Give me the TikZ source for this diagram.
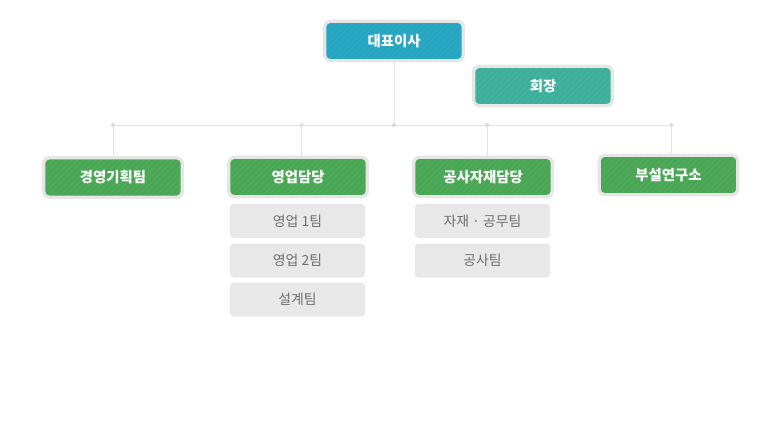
\documentclass[tikz,border=0pt]{standalone}
\usepackage{fontspec}
\newfontfamily\kr{Noto Sans CJK KR}
\definecolor{ceoblue}{HTML}{29A9C4}
\definecolor{chairteal}{HTML}{41B39E}
\definecolor{teamgreen}{HTML}{4DAA58}
\definecolor{subgrey}{HTML}{E8E8E8}
\definecolor{subtext}{HTML}{6E6E6E}
\definecolor{rimgrey}{HTML}{E6E6E6}
\definecolor{linegrey}{HTML}{E4E4E4}
\definecolor{dotgrey}{HTML}{DADADA}
\tikzset{
  hatch/.style={path picture={
    \foreach \k in {-60,-54,...,160}{
      \draw[black,opacity=0.035,line width=1.2pt]
        ([xshift=\k*0.75pt]path picture bounding box.south west) -- ++(45:80pt);
    }}},
  mainbox/.style={draw=rimgrey, line width=2.4pt, rounded corners=4pt,
    minimum width=104pt, minimum height=29.5pt, inner sep=0pt,
    text=white, font=\kr\bfseries\fontsize{10.8}{13}\selectfont, hatch},
  subbox/.style={fill=subgrey, rounded corners=3pt, draw=none,
    minimum width=101.5pt, minimum height=25.5pt, inner sep=0pt,
    text=subtext, font=\kr\fontsize{10.4}{13}\selectfont},
  conn/.style={draw=linegrey, line width=0.75pt},
  junction/.style={circle, fill=dotgrey, inner sep=0pt, minimum size=3pt}
}
\begin{document}
\begin{tikzpicture}[x=0.75pt,y=-0.75pt]
\useasboundingbox (0,0) rectangle (780,421);
% top boxes
\node[mainbox, fill=ceoblue] (ceo) at (394,41) {대표이사};
\node[mainbox, fill=chairteal] (chair) at (543,86) {회장};
% junctions on horizontal bar
\coordinate (j0) at (113,125);
\coordinate (j1) at (301.5,125);
\coordinate (jc) at (394,125);
\coordinate (j2) at (487,125);
\coordinate (j3) at (671.5,125);
% team boxes
\node[mainbox, fill=teamgreen] (t0) at (113,177.5) {경영기획팀};
\node[mainbox, fill=teamgreen] (t1) at (298,177) {영업담당};
\node[mainbox, fill=teamgreen] (t2) at (483,177) {공사자재담당};
\node[mainbox, fill=teamgreen] (t3) at (668.5,175) {부설연구소};
% sub boxes
\node[subbox] (s1) at (297.5,221) {영업 1팀};
\node[subbox] (s2) at (297.5,260.5) {영업 2팀};
\node[subbox] (s3) at (297.5,299.5) {설계팀};
\node[subbox] (s4) at (482.5,221) {자재 · 공무팀};
\node[subbox] (s5) at (482.5,260.5) {공사팀};
% connectors
\path[conn] (ceo.south) -- (jc);
\path[conn] (j0) -- (j3);
\path[conn] (j0) -- (j0 |- t0.north);
\path[conn] (j1) -- (j1 |- t1.north);
\path[conn] (j2) -- (j2 |- t2.north);
\path[conn] (j3) -- (j3 |- t3.north);
\foreach \j in {j0,j1,jc,j2,j3}{\node[junction] at (\j) {};}
\end{tikzpicture}
\end{document}
